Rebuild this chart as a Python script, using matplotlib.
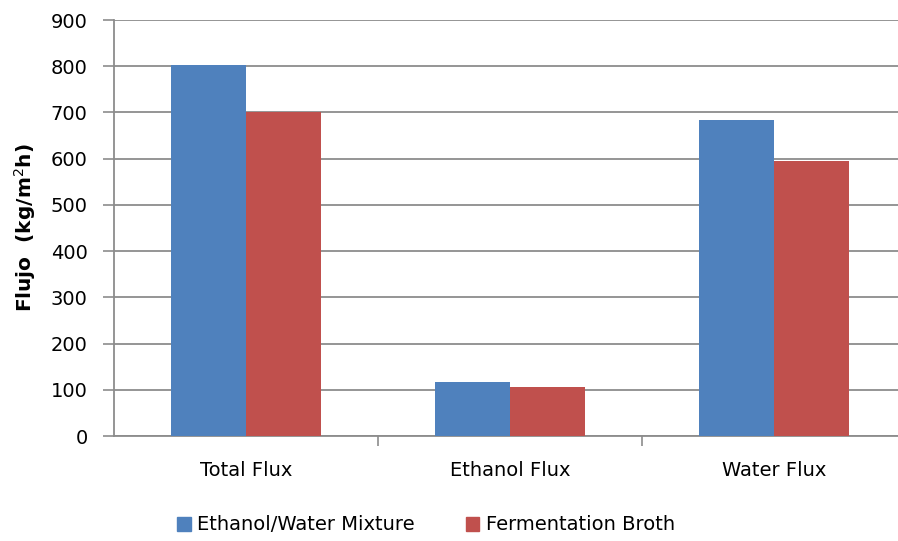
import numpy as np
import matplotlib.pyplot as plt
from matplotlib.patches import Patch

categories = ["Total Flux", "Ethanol Flux", "Water Flux"]
mixture = [802, 116, 684]
broth = [702, 106, 596]
series_names = ["Ethanol/Water Mixture", "Fermentation Broth"]
yticks = [0, 100, 200, 300, 400, 500, 600, 700, 800, 900]

BLUE = "#4F81BD"
RED = "#C0504D"
GRID = "#8C8C8C"
FS = 14

plt.rcParams["font.family"] = ["DejaVu Sans"]

W, H = 898, 541
fig = plt.figure(figsize=(W / 100, H / 100), dpi=100)
ax = fig.add_axes([114 / W, (H - 436) / H, (906 - 114) / W, (436 - 20) / H])

x = np.arange(len(categories))
bw = 75 / 264
ax.bar(x - bw / 2, mixture, width=bw, color=BLUE, zorder=3)
ax.bar(x + bw / 2, broth, width=bw, color=RED, zorder=3)

ax.set_xlim(-0.5, 2.5)
ax.set_ylim(0, 900)
ax.set_yticks(yticks)
ax.set_yticklabels([str(v) for v in yticks], fontsize=FS)
ax.yaxis.grid(True, color=GRID, linewidth=1.3, zorder=0)
ax.tick_params(axis="y", length=8, width=1.2, color=GRID, pad=11)

ax.set_xticks([0.5, 1.5])
ax.set_xticklabels([])
ax.tick_params(axis="x", length=7, width=1.2, color=GRID)
for i, c in enumerate(categories):
    ax.text(i, -0.06, c, transform=ax.get_xaxis_transform(), ha="center", va="top", fontsize=FS)

for s in ["top", "right"]:
    ax.spines[s].set_visible(False)
for s in ["left", "bottom"]:
    ax.spines[s].set_color(GRID)
    ax.spines[s].set_linewidth(1.3)

ax.set_ylabel("Flujo  (kg/m$^2$h)", fontsize=14.5, fontweight="bold")
ax.yaxis.set_label_coords(-76 / 792, 0.5)

handles = [Patch(color=BLUE), Patch(color=RED)]
fig.legend(handles, series_names, loc="center", bbox_to_anchor=(426 / W, (H - 525) / H),
           ncol=2, frameon=False, fontsize=FS, handlelength=0.7, handleheight=0.7,
           handletextpad=0.35, columnspacing=2.6)

fig.savefig("out.png", dpi=100)
